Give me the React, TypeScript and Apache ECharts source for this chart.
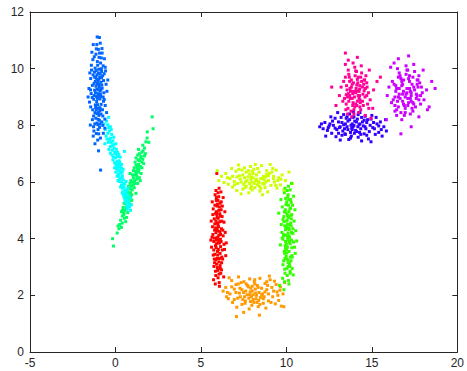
import React, { useEffect, useRef } from "react";
import * as echarts from "echarts";

const xTicks = [-5, 0, 5, 10, 15, 20];
const yTicks = [0, 2, 4, 6, 8, 10, 12];

const colors = ["#ff0000", "#ff9900", "#ccff00", "#33ff00", "#00ff66", "#00ffff", "#0066ff", "#3300ff", "#cc00ff", "#ff0099"];

const redPts = [[6.02,3.95],[5.88,4.21],[6.15,3.72],[5.95,4.55],[6.10,4.88],[5.82,3.45],[6.05,3.18],[5.92,4.02],[6.20,4.35],[5.78,4.70],
[6.08,5.12],[5.90,5.35],[6.12,3.05],[5.85,2.85],[6.00,2.62],[6.25,3.60],[5.75,3.90],[6.03,4.42],[5.97,3.55],[6.18,5.02],
[5.83,5.55],[6.06,5.78],[5.70,4.15],[6.30,4.10],[5.94,3.30],[6.13,2.95],[5.87,2.70],[6.01,4.72],[5.96,5.22],[6.22,4.62],
[5.80,3.15],[6.09,3.85],[5.91,4.95],[6.16,2.78],[5.74,2.55],[6.04,5.48],[5.86,4.38],[6.11,4.25],[5.98,3.42],[6.27,3.28],
[5.72,5.05],[6.07,2.45],[5.89,3.68],[6.19,5.30],[5.93,4.85],[6.14,3.98],[5.81,4.52],[6.00,5.62],[5.76,3.02],[6.24,4.78],
[5.99,2.88],[6.35,3.80],[5.68,4.42],[6.05,4.12],[5.90,3.82],[6.12,3.48],[5.95,5.15],[5.84,2.40],[6.40,4.95],[5.62,3.70],
[6.17,5.65],[5.88,5.70],[6.08,2.32],[6.33,2.65],[5.66,5.30],[6.02,3.62],[5.97,4.28],[6.21,3.15],[5.79,4.02],[6.45,3.40],[5.93,6.30],
[5.98,4.05],[6.10,4.60],[5.86,4.90],[6.18,3.90],[5.75,3.60],[6.28,4.30],[5.92,3.10],[6.05,5.00],[5.80,4.30],[6.35,4.58],
[5.70,4.85],[6.22,3.35],[5.95,4.75],[6.12,5.25],[5.85,3.75],[6.00,4.50],[5.65,4.05],[6.38,3.62],[5.90,5.45],[6.08,3.30],
[5.78,3.28],[6.25,5.15],[5.96,2.98],[6.15,4.15],[5.88,4.62],[6.42,4.22],[5.60,4.62],[6.02,3.85],[5.82,5.18],[6.20,2.90],
[5.94,4.35],[6.30,5.45],[5.72,3.42],[6.06,2.75],[5.58,3.95],[6.48,3.85],[5.91,3.95],[6.14,4.80],[5.87,3.25],[6.00,5.35]];

const orangePts = [[8.05,2.02],[7.62,2.15],[8.48,1.92],[7.25,2.08],[8.85,2.20],[7.90,1.78],[8.30,2.35],[6.95,2.22],[9.20,1.95],[7.45,1.85],
[8.65,1.72],[8.12,2.48],[7.78,2.30],[9.45,2.12],[6.70,2.05],[8.95,1.80],[7.35,2.45],[8.40,2.10],[7.98,1.65],[9.65,2.30],
[6.45,2.28],[8.22,1.88],[7.55,1.95],[8.75,2.42],[7.15,1.90],[9.05,2.55],[7.85,2.58],[8.55,2.25],[6.85,1.75],[9.35,1.70],
[8.00,2.15],[7.70,2.02],[8.35,1.60],[7.05,2.38],[9.80,2.05],[6.30,2.15],[8.60,2.05],[7.40,1.68],[8.90,2.35],[7.95,1.95],
[8.18,2.22],[7.52,2.48],[9.55,1.82],[6.60,1.88],[8.80,1.55],[7.28,2.25],[8.45,2.60],[7.82,1.52],[9.15,2.28],[6.80,2.52],
[8.10,1.75],[7.65,2.40],[8.25,2.00],[9.90,2.45],[7.10,1.58],[8.70,1.95],[7.88,2.12],[9.30,2.50],[6.50,1.95],[8.38,1.82],
[7.20,2.65],[9.70,1.62],[8.15,2.55],[7.58,1.72],[7.08,1.25],[8.42,1.30],[7.50,1.40],[9.85,1.60],[6.65,2.62],[9.00,2.68],
[8.20,2.08],[7.80,1.90],[8.55,2.00],[7.40,2.20],[8.95,2.05],[7.60,1.80],[8.35,2.28],[7.05,2.10],[9.25,2.15],[7.72,2.35],
[8.65,1.88],[8.05,1.85],[7.92,2.25],[9.50,2.00],[6.80,2.30],[8.85,2.48],[7.30,1.95],[8.45,1.68],[8.15,2.40],[9.10,1.75],
[6.95,1.85],[8.00,2.32],[7.50,2.10],[8.75,2.12],[7.18,2.40],[9.62,2.18],[7.85,2.02],[8.28,1.75],[6.55,2.10],[9.40,2.38]];

const yellowPts = [[8.20,6.05],[7.75,6.18],[8.62,5.95],[7.30,6.10],[8.95,6.22],[7.95,5.85],[8.40,6.35],[6.95,6.02],[9.30,6.00],[7.50,5.92],
[8.75,5.80],[8.10,6.45],[7.85,6.28],[9.55,6.15],[6.70,6.12],[9.10,5.88],[7.40,6.42],[8.50,6.12],[8.00,5.72],[9.75,6.25],
[6.45,6.30],[8.30,5.90],[7.60,6.00],[8.85,6.40],[7.15,5.95],[9.20,6.48],[7.90,6.55],[8.65,6.20],[6.85,5.82],[9.45,5.78],
[8.05,6.15],[7.70,6.05],[8.45,5.68],[7.05,6.38],[9.95,6.05],[6.20,6.20],[8.70,6.08],[7.45,5.75],[9.00,6.30],[7.98,6.00],
[8.25,6.25],[7.55,6.50],[9.65,5.90],[6.60,5.92],[8.90,5.65],[7.25,6.22],[8.55,6.58],[7.80,5.62],[9.25,6.20],[6.80,6.48],
[8.15,5.80],[7.65,6.35],[8.35,6.02],[10.15,6.35],[7.10,5.70],[8.80,6.00],[7.92,6.10],[9.40,6.42],[6.35,5.98],[8.42,5.85],
[7.20,6.60],[9.85,5.72],[8.18,6.62],[7.58,5.80],[6.05,6.05],[10.35,5.95],[8.60,5.55],[7.35,5.58],[9.05,6.62],[5.95,6.40],
[8.25,6.10],[7.85,5.95],[8.60,6.12],[7.45,6.25],[8.95,6.05],[7.65,5.85],[8.40,5.98],[7.10,6.18],[9.25,6.12],[7.78,6.40],
[8.70,5.92],[8.05,6.30],[7.95,6.18],[9.50,6.05],[6.85,6.20],[8.85,6.28],[7.35,6.00],[8.50,5.78],[8.12,5.95],[9.15,6.35],
[6.98,5.90],[8.00,6.38],[7.55,6.15],[8.78,6.18],[7.22,6.45],[9.68,6.10],[7.90,5.78],[8.32,6.48],[6.55,6.15],[9.38,5.88]];

const greenPts = [[10.08,4.05],[9.95,4.32],[10.22,3.82],[10.02,4.62],[10.15,4.95],[9.88,3.55],[10.10,3.25],[9.98,4.12],[10.28,4.45],[9.85,4.78],
[10.12,5.18],[9.96,5.42],[10.18,3.12],[9.90,2.92],[10.05,2.70],[10.32,3.68],[9.80,3.98],[10.06,4.50],[10.01,3.62],[10.24,5.08],
[9.88,5.62],[10.12,5.85],[9.74,4.22],[10.38,4.18],[9.99,3.38],[10.20,3.02],[9.92,2.78],[10.07,4.80],[10.02,5.30],[10.29,4.70],
[9.84,3.22],[10.14,3.92],[9.94,5.02],[10.22,2.85],[9.78,2.60],[10.10,5.55],[9.90,4.45],[10.17,4.32],[10.03,3.50],[10.34,3.35],
[9.76,5.12],[10.12,2.52],[9.93,3.75],[10.25,5.38],[9.97,4.92],[10.19,4.05],[9.86,4.60],[10.05,5.70],[9.80,3.08],[10.31,4.85],
[10.04,2.95],[10.42,3.88],[9.70,4.50],[10.10,4.20],[9.95,3.90],[10.16,3.55],[10.00,5.22],[9.89,2.48],[10.50,5.02],[9.65,3.78],
[10.22,5.72],[9.92,5.78],[10.15,2.40],[10.40,2.72],[9.68,5.38],[10.06,3.70],[10.02,4.35],[10.27,3.22],[9.83,4.10],[10.52,3.48],
[10.30,5.95],[9.55,4.90],[9.60,2.35],[9.85,2.20],
[10.15,4.10],[10.25,4.55],[10.05,4.85],[10.30,3.95],[9.95,3.65],[10.38,4.35],[10.10,3.15],[10.20,5.05],[9.98,4.40],[10.45,4.62],
[9.88,4.95],[10.32,3.40],[10.12,4.75],[10.28,5.28],[10.00,3.80],[10.18,4.50],[9.85,4.15],[10.48,3.70],[10.08,5.48],[10.24,3.35],
[9.92,3.30],[10.36,5.18],[10.10,3.02],[10.30,4.22],[10.04,4.65],[10.55,4.28],[9.80,4.68],[10.18,3.88],[9.98,5.20],[10.34,2.95],
[10.12,4.38],[10.42,5.50],[9.90,3.48],[10.22,2.78],[9.75,4.02],[10.60,3.92],[10.08,3.98],[10.26,4.82],[10.02,3.28],[10.14,5.38]];

const springPts = [[1.00,6.00],[1.15,6.25],[0.85,5.75],[1.30,6.45],[0.70,5.50],[1.40,6.75],[0.60,5.25],[1.25,6.10],[0.90,6.05],[1.10,5.80],
[1.45,6.55],[0.55,5.45],[1.20,6.60],[0.80,5.30],[1.50,6.90],[0.45,5.10],[1.35,6.35],[0.95,5.55],[1.05,6.40],[0.75,5.85],
[1.60,6.80],[0.50,4.90],[1.30,6.95],[0.65,5.05],[1.55,7.05],[0.40,4.80],[1.15,6.70],[0.85,5.95],[1.25,6.20],[0.70,5.65],
[1.40,6.15],[0.60,5.70],[1.65,6.65],[0.35,4.95],[1.50,6.30],[0.90,5.20],[1.20,6.85],[0.55,5.00],[1.75,7.00],[0.30,4.65],
[1.10,6.50],[0.80,5.60],[1.35,7.15],[0.65,4.75],[1.45,6.05],[0.95,5.35],[1.05,5.90],[0.50,5.25],[1.60,7.30],[0.25,4.50],
[1.85,7.55],[0.20,4.35],[1.70,7.20],[0.40,4.55],[1.55,6.50],[0.75,5.15],[1.30,5.95],[0.85,6.30],[2.15,8.30],[2.20,7.88],
[1.86,7.77],[1.95,7.40],[-0.17,4.00],[-0.12,3.74],[0.10,4.20],[0.15,4.45],[0.60,4.60],[1.20,5.60],
[1.05,6.15],[0.92,5.85],[1.18,6.38],[0.78,5.42],[1.35,6.62],[0.62,5.12],[1.48,6.85],[0.48,4.85],[1.28,6.52],[0.88,5.62],
[1.12,6.05],[0.68,5.32],[1.55,6.70],[0.58,5.55],[1.40,7.00],[0.42,5.00],[1.22,6.30],[0.98,5.72],[1.62,7.10],[0.72,4.92],
[1.00,6.25],[0.82,5.48],[1.38,6.45],[0.52,4.72],[1.70,6.92],[0.35,4.40],[1.78,7.42],[0.90,5.45],[1.15,5.95],[1.32,6.78]];

const cyanPts = [[-0.52,8.15],[-0.68,8.05],[-0.40,7.92],[-0.60,7.85],[-0.30,7.95],[-0.45,7.72],[-0.22,7.68],[-0.55,7.62],[-0.35,7.50],[-0.15,7.45],
[-0.42,7.40],[-0.28,7.55],[-0.10,7.32],[-0.30,7.25],[-0.20,7.28],[0.02,7.35],[-0.18,7.12],[-0.05,7.05],[0.05,7.15],[-0.30,7.02],
[0.08,6.92],[-0.12,6.88],[0.00,6.85],[-0.20,6.95],[0.15,6.90],[0.10,6.72],[-0.05,6.68],[0.20,6.75],[0.02,6.62],[0.25,6.70],
[0.18,6.52],[0.05,6.48],[0.30,6.55],[0.12,6.42],[-0.05,6.50],[0.30,6.32],[0.15,6.28],[0.40,6.35],[0.20,6.22],[0.25,6.12],
[0.45,6.08],[0.38,6.15],[0.15,6.05],[0.48,5.92],[0.35,5.88],[0.55,5.95],[0.30,5.82],[0.55,5.72],[0.42,5.65],[0.65,5.70],
[0.62,5.52],[0.50,5.48],[0.72,5.55],[0.75,5.32],[0.60,5.28],[0.82,5.12],[0.70,5.05],[0.52,7.08],[0.35,6.62],[-0.62,7.35],
[0.45,6.45],[0.62,6.02],[0.10,6.20],[0.85,5.45],[-0.40,8.28],[0.28,6.88],[0.92,5.20],[0.40,5.60],
[-0.45,8.02],[-0.35,7.80],[-0.50,7.52],[-0.25,7.40],[-0.08,7.20],[-0.38,7.15],[0.00,7.00],[0.12,7.05],[-0.15,6.78],[0.18,6.62],
[0.08,6.58],[0.25,6.40],[0.02,6.35],[0.35,6.48],[0.22,6.02],[0.35,6.00],[0.50,5.82],[0.40,5.78],[0.60,5.62],[0.48,5.55],
[0.68,5.40],[0.55,5.38],[0.78,5.22],[0.65,5.15],[0.88,5.00],[-0.25,7.85],[-0.10,7.58],[0.20,6.98],[0.40,6.22],[0.72,5.78]];

const azurePts = [[-1.02,9.12],[-0.95,9.35],[-1.10,8.84],[-1.18,9.55],[-0.86,9.02],[-0.98,9.98],[-0.92,8.52],[-1.08,9.28],[-1.25,9.05],[-0.78,9.31],
[-1.01,8.21],[-1.16,8.63],[-0.84,8.74],[-0.90,9.81],[-1.06,10.25],[-0.97,9.63],[-1.28,8.33],[-0.70,9.58],[-1.35,9.41],[-1.03,8.02],
[-0.83,10.38],[-1.19,10.02],[-1.12,7.71],[-0.93,7.93],[-1.42,9.12],[-0.66,8.91],[-1.00,10.68],[-1.38,10.58],[-1.07,11.12],[-0.94,11.10],
[-1.21,8.05],[-0.74,8.33],[-1.30,7.62],[-1.04,7.48],[-0.81,9.90],[-1.13,9.93],[-0.89,9.21],[-1.22,9.24],[-0.99,8.61],[-0.91,8.93],
[-1.09,8.41],[-0.80,8.12],[-1.31,9.78],[-0.72,10.10],[-1.52,8.82],[-0.62,8.22],[-1.24,10.42],[-0.79,10.71],[-0.96,9.44],[-1.11,9.02],
[-0.88,7.55],[-1.47,8.01],[-0.71,7.72],[-1.20,7.35],[-0.87,10.20],[-1.14,10.51],[-1.41,10.12],[-0.58,9.92],[-1.05,8.73],[-0.97,8.35],
[-1.15,9.70],[-0.85,9.52],[-1.27,8.92],[-1.00,9.85],[-0.93,10.55],[-1.09,10.85],[-0.76,8.55],[-1.33,8.55],[-1.06,9.46],[-0.90,8.05],
[-1.17,9.15],[-0.82,9.68],[-1.02,7.85],[-1.23,9.88],[-0.68,9.15],[-1.45,9.65],[-0.89,10.90],[-1.12,10.70],[-1.55,9.30],[-0.87,6.42],
[-1.26,7.80],[-0.99,7.10],
[-0.55,9.45],[-1.45,8.65],[-0.60,8.70],[-1.50,9.85],[-0.50,9.20],[-1.35,8.20],[-0.65,10.35],[-1.30,10.85],[-0.75,9.75],[-1.10,9.62],
[-0.95,9.05],[-1.05,8.95],[-0.85,8.40],[-1.20,8.45],[-0.70,8.85],[-1.40,9.95],[-0.92,9.70],[-1.00,8.45],[-1.15,8.25],[-0.80,9.42],
[-1.25,9.48],[-0.60,10.05],[-0.96,10.40],[-1.08,8.08],[-0.45,9.60],[-1.60,9.00],[-0.88,9.10],[-1.02,9.55],[-1.18,8.72],[-0.74,8.00],
[-1.32,10.32],[-0.98,7.70],[-0.84,9.28],[-1.14,9.38],[-0.66,9.82],[-1.28,7.95],[-0.94,8.18],[-1.04,10.12],[-0.78,10.55],[-1.36,8.98],
[-1.08,9.78],[-0.90,8.62],[-1.22,9.70],[-0.72,9.00],[-1.00,9.25],[-1.12,8.55],[-0.82,10.00],[-1.46,9.25],[-0.52,8.45],[-0.62,7.90]];

const bluePts = [[13.90,7.95],[13.45,8.05],[14.35,7.88],[13.10,7.92],[14.70,8.10],[13.75,7.75],[14.15,8.22],[12.75,8.00],[15.05,7.92],[13.30,7.80],
[14.55,7.70],[13.95,8.30],[13.60,8.15],[15.30,8.05],[12.50,7.98],[14.85,7.78],[13.20,8.28],[14.25,8.02],[13.80,7.62],[15.50,8.12],
[12.25,8.10],[14.05,7.82],[13.40,7.88],[14.60,8.32],[12.95,7.85],[15.00,8.35],[13.70,8.40],[14.45,8.12],[12.65,7.72],[15.20,7.68],
[13.85,8.05],[13.55,7.95],[14.20,7.58],[12.85,8.25],[15.70,7.95],[12.05,8.05],[14.50,7.98],[13.25,7.65],[14.75,8.20],[13.82,7.90],
[14.10,8.12],[13.35,8.38],[15.40,7.75],[12.40,7.82],[14.80,7.52],[13.05,8.12],[14.30,8.45],[13.65,7.50],[15.10,8.10],[12.60,8.30],
[13.98,7.72],[13.50,8.25],[14.18,7.95],[15.80,8.20],[12.90,7.60],[14.65,7.88],[13.78,8.00],[15.25,8.28],[12.15,7.88],[14.28,7.75],
[13.00,8.45],[15.60,7.62],[13.92,8.48],[13.42,7.70],[12.30,7.62],[14.40,7.45],[13.15,7.48],[15.85,7.80],[11.95,7.95],[14.95,7.42],
[13.95,8.00],[13.60,7.85],[14.30,8.05],[13.25,8.10],[14.60,7.95],[13.70,8.20],[14.10,7.78],[12.85,7.90],[14.90,8.00],[13.45,7.68],
[14.40,8.28],[13.85,7.85],[13.55,8.30],[15.15,7.88],[12.70,8.15],[14.70,7.65],[13.15,7.95],[14.20,8.38],[13.75,7.55],[15.40,7.98],
[12.45,7.92],[14.00,8.15],[13.35,8.02],[14.55,8.18],[13.05,7.72],[14.95,8.22],[13.88,8.28],[14.35,7.68],[12.55,8.05],[15.55,7.85]];

const violetPts = [[17.00,9.10],[16.75,9.40],[17.30,8.85],[16.55,9.00],[17.45,9.35],[16.95,8.60],[17.20,9.75],[16.40,9.20],[17.65,9.05],[16.85,8.75],
[17.40,8.50],[17.10,9.95],[16.70,9.65],[17.80,9.50],[16.25,8.90],[17.55,8.65],[16.60,9.85],[17.25,9.20],[16.90,8.35],[17.95,9.15],
[16.20,9.55],[17.15,8.80],[16.65,8.95],[17.50,9.90],[16.45,8.55],[17.75,9.75],[17.00,10.10],[17.35,9.45],[16.35,8.70],[17.85,8.75],
[17.05,9.30],[16.80,9.10],[17.25,8.40],[16.50,10.00],[18.20,9.25],[16.00,9.35],[17.60,9.10],[16.70,8.45],[17.70,9.60],[16.95,9.00],
[17.20,9.55],[16.55,9.70],[18.05,8.90],[16.15,8.80],[17.75,8.30],[16.40,9.40],[17.45,10.15],[16.75,8.20],[17.90,9.35],[16.30,10.20],
[17.10,8.70],[16.60,9.30],[17.30,9.05],[18.50,9.55],[16.45,8.35],[17.65,9.45],[16.85,9.20],[18.00,9.95],[15.90,9.05],[17.40,8.80],
[16.55,10.35],[18.25,8.55],[17.15,10.45],[16.35,8.50],[15.85,8.20],[17.30,7.95],[16.70,7.70],[18.70,9.30],[16.10,10.05],[18.35,8.65],
[17.05,9.15],[16.80,9.45],[17.25,8.95],[16.60,9.10],[17.50,9.25],[16.90,8.70],[17.15,9.65],[16.45,9.30],[17.60,8.95],[16.80,8.85],
[17.35,8.60],[17.00,9.80],[16.75,9.55],[17.70,9.35],[16.35,9.00],[17.45,8.75],[16.65,9.75],[17.20,9.30],[16.95,8.45],[17.85,9.05],
[16.30,9.45],[17.10,8.95],[16.85,9.60],[17.40,9.70],[16.55,8.65],[17.65,9.60],[17.05,9.95],[17.30,9.15],[16.50,8.85],[17.75,8.90]];

const pinkPts = [[14.05,9.15],[13.85,9.45],[14.30,8.90],[13.70,9.05],[14.45,9.35],[14.00,8.65],[14.20,9.70],[13.55,9.25],[14.60,9.00],[13.90,8.80],
[14.35,8.55],[14.10,9.90],[13.80,9.60],[14.70,9.50],[13.40,8.95],[14.50,8.70],[13.65,9.80],[14.25,9.20],[13.95,8.40],[14.80,9.15],
[13.35,9.55],[14.15,8.85],[13.75,8.95],[14.40,9.85],[13.60,8.60],[14.65,9.75],[14.00,10.05],[14.30,9.40],[13.50,8.75],[14.75,8.75],
[14.08,9.30],[13.88,9.12],[14.22,8.45],[13.62,9.95],[15.10,9.25],[13.20,9.35],[14.48,9.10],[13.78,8.50],[14.55,9.60],[13.98,9.00],
[14.18,9.50],[13.68,9.70],[14.90,8.90],[13.30,8.85],[14.62,8.35],[13.52,9.40],[14.38,10.10],[13.82,8.30],[14.72,9.35],[13.45,10.15],
[14.12,8.70],[13.72,9.30],[14.28,9.05],[15.30,9.55],[13.58,8.40],[14.52,9.45],[13.92,9.20],[14.85,9.95],[13.10,9.05],[14.32,8.80],
[13.62,10.30],[15.05,8.60],[14.15,10.40],[13.48,8.55],[12.65,9.35],[13.90,10.20],[13.45,10.55],[15.50,9.70],[12.90,8.70],[14.95,8.25],
[14.10,9.20],[13.92,9.50],[14.25,8.95],[13.75,9.20],[14.40,9.55],[14.05,8.75],[14.15,9.62],[13.62,9.12],[14.55,9.22],[13.85,8.95],
[14.30,8.65],[14.02,9.75],[13.80,9.35],[14.62,9.30],[13.50,9.08],[14.45,8.85],[13.70,9.55],[14.20,9.05],[13.95,8.55],[14.70,9.05],
[13.45,9.70],[14.12,9.42],[13.88,8.70],[14.35,9.70],[13.65,8.85],[14.58,9.60],[14.05,9.92],[14.28,9.28],[13.58,9.00],[14.82,8.60]];

const clusters = [redPts, orangePts, yellowPts, greenPts, springPts, cyanPts, azurePts, bluePts, violetPts, pinkPts];

const FONT = "'Liberation Sans', Arial, sans-serif";
const AX = "#262626";

export default function App() {
  const ref = useRef<HTMLDivElement>(null);
  useEffect(() => {
    if (!ref.current) return;
    const chart = echarts.init(ref.current, null, { renderer: "svg" });
    const xBase = {
      type: "value" as const,
      min: xTicks[0],
      max: xTicks[xTicks.length - 1],
      interval: xTicks[1] - xTicks[0],
      axisLine: { show: true, onZero: false, lineStyle: { color: AX, width: 1 } },
      axisTick: { show: true, inside: true, length: 5, lineStyle: { color: AX } },
      splitLine: { show: false },
    };
    const yBase = {
      type: "value" as const,
      min: yTicks[0],
      max: yTicks[yTicks.length - 1],
      interval: yTicks[1] - yTicks[0],
      axisLine: { show: true, onZero: false, lineStyle: { color: AX, width: 1 } },
      axisTick: { show: true, inside: true, length: 5, lineStyle: { color: AX } },
      splitLine: { show: false },
    };
    chart.setOption({
      animation: false,
      backgroundColor: "#ffffff",
      grid: { left: 30, right: 7, top: 12, bottom: 19, containLabel: false },
      xAxis: [
        { ...xBase, position: "bottom", axisLabel: { color: AX, fontSize: 12, fontFamily: FONT, margin: 5 } },
        { ...xBase, position: "top", axisLabel: { show: false } },
      ],
      yAxis: [
        { ...yBase, position: "left", axisLabel: { color: AX, fontSize: 12, fontFamily: FONT, margin: 6 } },
        { ...yBase, position: "right", axisLabel: { show: false } },
      ],
      series: clusters.map((pts, i) => ({
        type: "scatter",
        xAxisIndex: 0,
        yAxisIndex: 0,
        symbol: "rect",
        symbolSize: 3,
        itemStyle: { color: colors[i], opacity: 1 },
        data: pts,
        silent: true,
      })),
    });
    return () => chart.dispose();
  }, []);
  return <div ref={ref} style={{ position: "absolute", left: 0, top: 0, width: 467, height: 371 }} />;
}
